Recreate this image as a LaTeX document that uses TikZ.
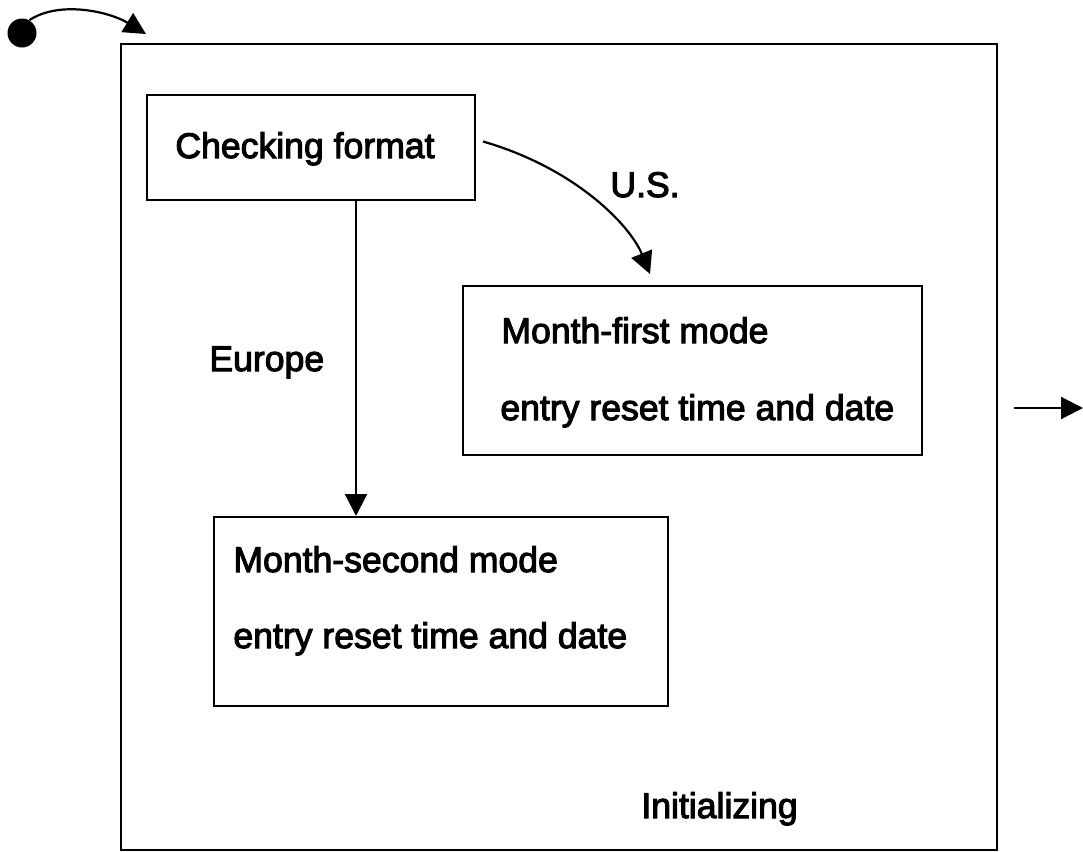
\documentclass[tikz,border=0pt]{standalone}
\usepackage{fontspec}
\setmainfont{Liberation Sans}
\newfontfamily\heavysans{Liberation Sans}[FakeBold=3]
\usetikzlibrary{fit,arrows.meta,calc}
\begin{document}
\begin{tikzpicture}[x=0.5pt,y=-0.5pt,
  box/.style={draw,line width=1pt,inner sep=0pt},
  lbl/.style={anchor=base west,inner sep=0pt,font=\heavysans\fontsize{17.8}{20}\selectfont},
  flow/.style={line width=1.1pt,-{Triangle[length=11pt,width=11pt]}}]
\useasboundingbox (0,0) rectangle (1083,852);
% composite state and its inner states
\node[box,fit={(121,44) (997,850)}] (init) {};
\node[box,fit={(147,95) (475,200)}] (chk) {};
\node[box,fit={(463,286) (922,455)}] (mf) {};
\node[box,fit={(214,517) (668,706)}] (ms) {};
% labels
\node[lbl] (tchk) at (175,158) {Checking format};
\node[lbl] (tmf1) at (501,343) {Month-first mode};
\node[lbl] (tmf2) at (500,420) {entry reset time and date};
\node[lbl] (tms1) at (233,572) {Month-second mode};
\node[lbl] (tms2) at (233,648) {entry reset time and date};
\node[lbl] (tus) at (610,197) {U.S.};
\node[lbl] (teu) at (209,371) {Europe};
\node[lbl] (tinit) at (641,818) {Initializing};
% initial pseudo-state
\node[circle,fill=black,minimum size=14.5pt,inner sep=0pt] (start) at (22,33) {};
\coordinate (entry) at (146,34);
\coordinate (exit) at (1083,408);
\coordinate (exitfrom) at (1014,408);
\draw[flow] (start.60) .. controls (60,0) and (110,12) .. (entry);
% transitions
\draw[flow] ($(chk.east)+(7,-6)$) .. controls (575,168) and (630,225) .. ($(mf.north west)+(188,-11)$);
\draw[flow] (chk.south -| 356,0) -- (ms.north -| 356,0);
\draw[flow] (exitfrom) -- (exit);
\end{tikzpicture}
\end{document}
